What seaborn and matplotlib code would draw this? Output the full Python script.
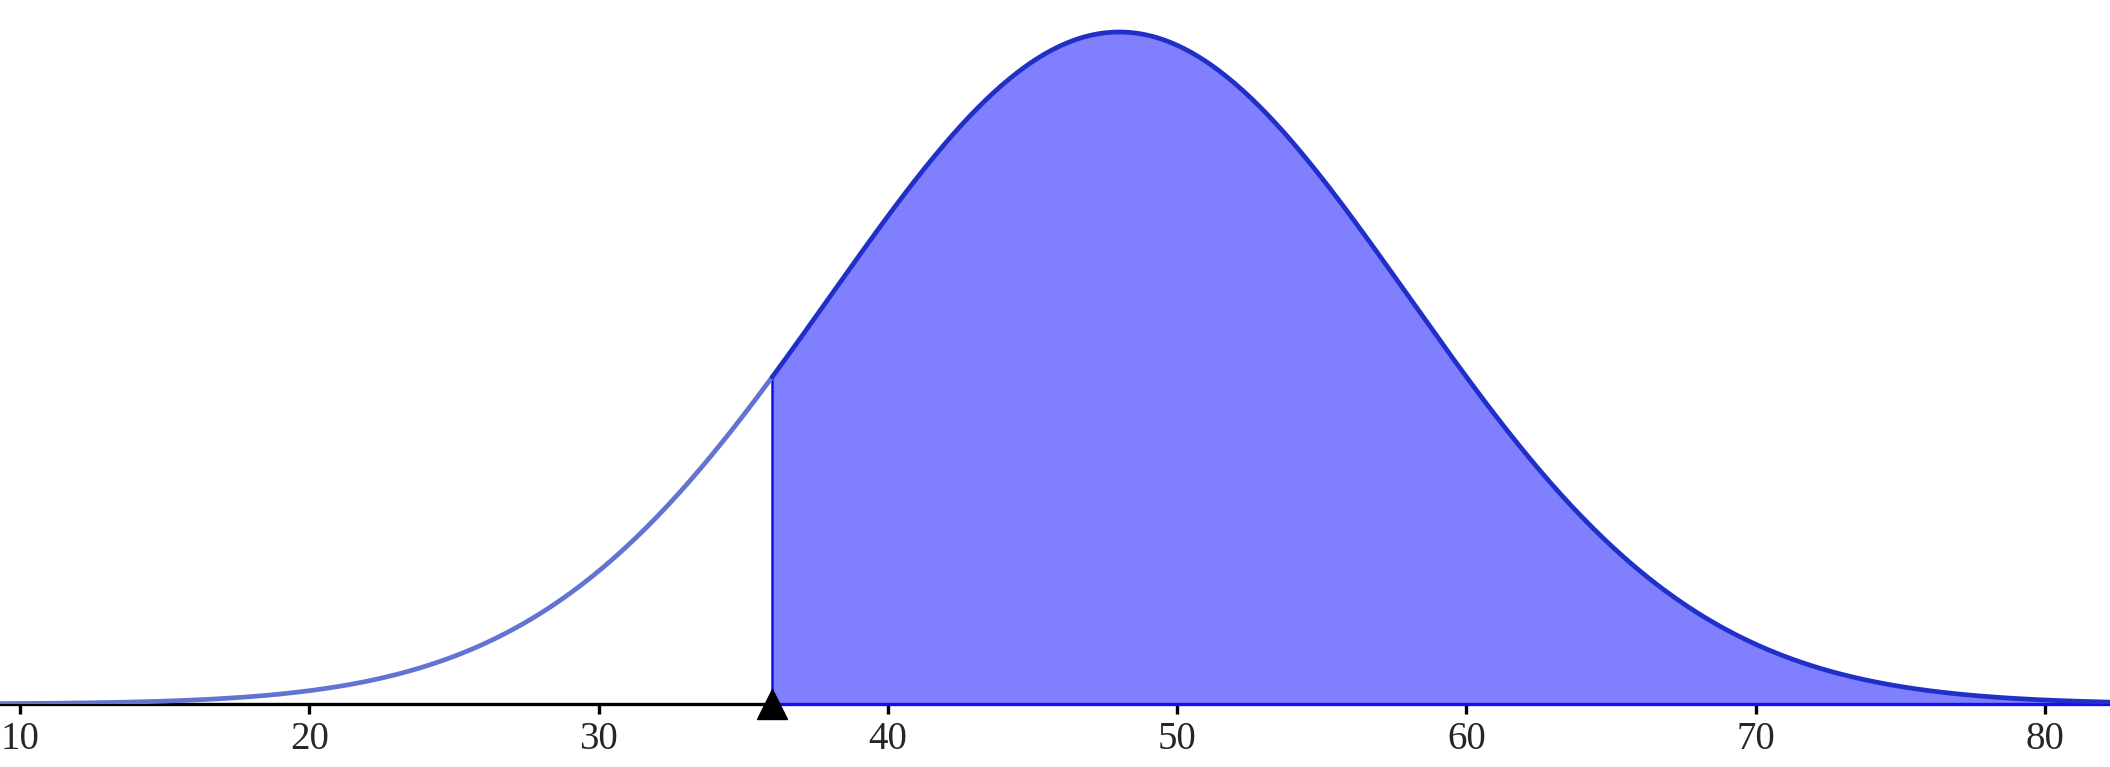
import numpy as np
import pandas as pd
import matplotlib
matplotlib.use("Agg")
import matplotlib.pyplot as plt
import seaborn as sns

# distribution
mean = 48
sd = 10
cutoff = 36
x_ticks = [10, 20, 30, 40, 50, 60, 70, 80]
x_min, x_max = 9.3, 82.25

sns.set_style("white")
plt.rcParams['font.family'] = ['Liberation Serif', 'DejaVu Sans']

xs = np.linspace(x_min, x_max, 800)
xs = np.sort(np.append(xs, cutoff))
df = pd.DataFrame({"x": xs})
df["density"] = np.exp(-0.5 * ((df["x"] - mean) / sd) ** 2) / (sd * np.sqrt(2 * np.pi))
left = df[df["x"] <= cutoff]
right = df[df["x"] >= cutoff]
peak = df["density"].max()

fig = plt.figure(figsize=(21.1, 7.67), dpi=100)
ax = fig.add_axes([0, 0.0821, 1, 0.9179])

# shaded area right of cutoff
ax.fill_between(right["x"], 0, right["density"], color="#8080ff", linewidth=0, zorder=1)
ax.plot([cutoff, cutoff], [0, right["density"].iloc[0]], color="#1010f0", lw=1.8, zorder=2)

sns.lineplot(data=left, x="x", y="density", ax=ax, color="#6273d2", lw=3.4, zorder=3)
sns.lineplot(data=right, x="x", y="density", ax=ax, color="#1f2fc8", lw=3.4, zorder=3)

# baseline: black left of cutoff, blue right of it
ax.plot([x_min, cutoff], [0, 0], color="black", lw=2.4, zorder=2, clip_on=False)
ax.plot([cutoff, x_max], [0, 0], color="#1010f0", lw=2.4, zorder=2, clip_on=False)
ax.plot([cutoff], [0], marker="^", color="black", ms=22, zorder=5, clip_on=False)

ax.set_xlim(x_min, x_max)
ax.set_ylim(0, peak * 704 / 672)
ax.set_xticks(x_ticks)
ax.set_yticks([])
ax.set_xlabel("")
ax.set_ylabel("")
ax.tick_params(axis="x", direction="out", length=7, width=2.4, color="black",
               labelsize=28, pad=5, bottom=True)
sns.despine(ax=ax, left=True, bottom=True)

fig.savefig("out.png", dpi=100)
